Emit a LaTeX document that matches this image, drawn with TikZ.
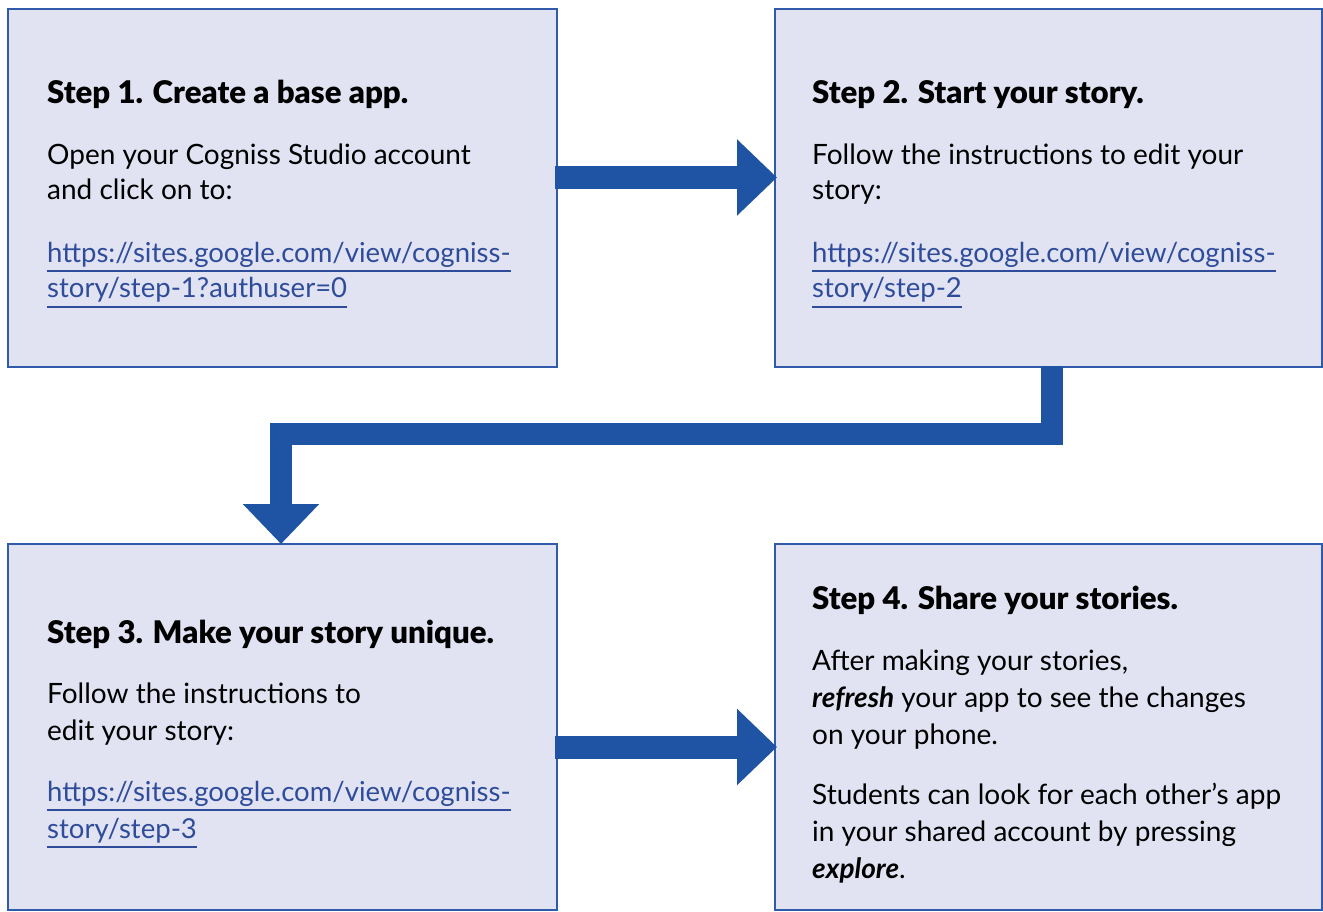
\documentclass[tikz,border=0pt]{standalone}
\usepackage{fontspec}
\setmainfont{Lato}
\newfontfamily\blackfont{Lato Black}
\usetikzlibrary{arrows.meta}
\definecolor{boxfill}{RGB}{225,227,243}
\definecolor{boxline}{RGB}{47,91,170}
\definecolor{arrowc}{RGB}{31,83,164}
\definecolor{linkc}{RGB}{46,76,154}
\tikzset{
  stepbox/.style={draw=boxline, fill=boxfill, line width=2pt, rectangle, inner sep=0pt},
  txt/.style={anchor=base west, inner sep=0pt, font=\fontsize{28}{37}\selectfont},
  ttl/.style={txt, font=\fontsize{31.2}{37}\selectfont\blackfont},
  lnk/.style={txt, text=linkc, font=\fontsize{27.5}{37}\selectfont},
  uln/.style={draw=linkc, line width=1.5pt},
  bigarrow/.style={draw=arrowc, line width=23pt, line join=miter,
    -{Triangle[length=40pt,width=74pt]}},
}
\begin{document}
\begin{tikzpicture}[x=1pt,y=-1pt]
\useasboundingbox (0,0) rectangle (1323,912);
% boxes
\node[stepbox, minimum width=549pt, minimum height=358pt] (b1) at (282.5,188) {};
\node[stepbox, minimum width=547pt, minimum height=358pt] (b2) at (1048.5,188) {};
\node[stepbox, minimum width=549pt, minimum height=366pt] (b3) at (282.5,727) {};
\node[stepbox, minimum width=547pt, minimum height=366pt] (b4) at (1048.5,727) {};
% arrows
\coordinate (a1s) at (555,177.5);
\coordinate (a1e) at (777,177.5);
\draw[bigarrow] (a1s) -- (a1e);
\coordinate (a2s) at (1052,366);
\coordinate (a2m) at (281,433.5);
\coordinate (a2e) at (281,544);
\draw[bigarrow, line width=22pt] (a2s) |- (a2m) -- (a2e);
\coordinate (a3s) at (555,747);
\coordinate (a3e) at (777,747);
\draw[bigarrow] (a3s) -- (a3e);
% box 1
\node[ttl] (t1) at (47,104) {Step 1. Create a base app.};
\node[txt] (t1a) at (47,165) {Open your Cogniss Studio account};
\node[txt] (t1b) at (47,200) {and click on to:};
\node[lnk] (u1a) at (47,262) {https://sites.google.com/view/cogniss-};
\node[lnk] (u1b) at (47,298) {story/step-1?authuser=0};
% box 2
\node[ttl] (t2) at (812,104) {Step 2. Start your story.};
\node[txt] (t2a) at (812,165) {Follow the instructions to edit your};
\node[txt] (t2b) at (812,200) {story:};
\node[lnk] (u2a) at (812,262) {https://sites.google.com/view/cogniss-};
\node[lnk] (u2b) at (812,298) {story/step-2};
% box 3
\node[ttl] (t3) at (47,643) {Step 3. Make your story unique.};
\node[txt] (t3a) at (47,703) {Follow the instructions to};
\node[txt] (t3b) at (47,740) {edit your story:};
\node[lnk] (u3a) at (47,801) {https://sites.google.com/view/cogniss-};
\node[lnk] (u3b) at (47,838) {story/step-3};
% box 4
\node[ttl] (t4) at (812,609) {Step 4. Share your stories.};
\node[txt] (t4a) at (812,670) {After making your stories,};
\node[txt] (t4b) at (812,707) {\textbf{\textit{refresh}} your app to see the changes};
\node[txt] (t4c) at (812,744) {on your phone.};
\node[txt] (t4d) at (812,804) {Students can look for each other’s app};
\node[txt] (t4e) at (812,841) {in your shared account by pressing};
\node[txt] (t4f) at (812,878) {\textbf{\textit{explore}}.};
% underlines
\foreach \u in {u1a,u1b,u2a,u2b,u3a,u3b}
  \draw[uln] ([yshift=-9pt]\u.base west) -- ([yshift=-9pt]\u.base east);
\end{tikzpicture}
\end{document}
